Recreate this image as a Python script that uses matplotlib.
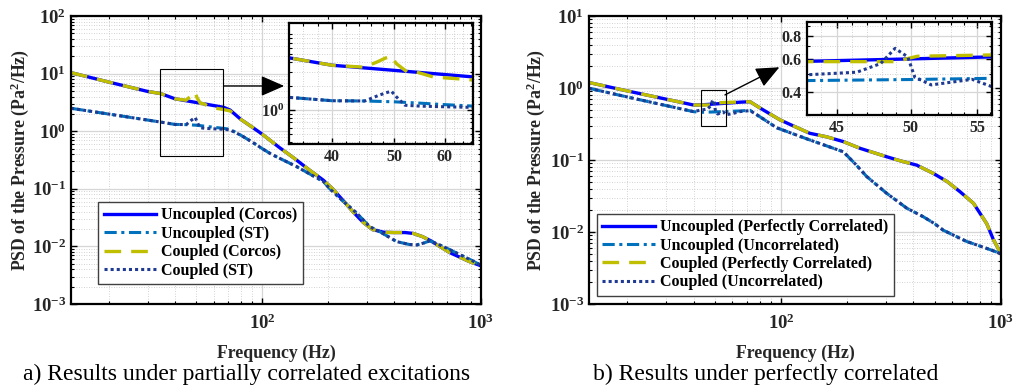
import numpy as np
import matplotlib
matplotlib.use('Agg')
import matplotlib.pyplot as plt
from matplotlib.patches import Rectangle
from matplotlib.ticker import FixedLocator, NullFormatter, FixedFormatter

plt.rcParams['font.family'] = ['Liberation Serif', 'DejaVu Serif']
plt.rcParams['font.weight'] = 'bold'
plt.rcParams['axes.labelweight'] = 'bold'
plt.rcParams['mathtext.fontset'] = 'custom'
plt.rcParams['mathtext.rm'] = 'Liberation Serif:bold'
plt.rcParams['mathtext.it'] = 'Liberation Serif:bold'
plt.rcParams['mathtext.bf'] = 'Liberation Serif:bold'

# ---- panel a) partially correlated ----
fa_unc_corcos = [13.4, 20, 30, 34.4, 40, 50, 60, 66.7, 71.4, 80, 90, 100, 120, 140, 165, 190,
                 210, 235, 260, 290, 320, 360, 400, 450, 490, 540, 590, 650, 720, 800, 880, 1000]
pa_unc_corcos = [10.4, 7.1, 4.9, 4.5, 3.65, 3.15, 2.79, 2.6, 2.33, 1.6, 1.18, 0.89, 0.52, 0.34, 0.21, 0.142,
                 0.10, 0.062, 0.040, 0.026, 0.0195, 0.0176, 0.0174, 0.0174, 0.0168, 0.0148, 0.0125, 0.0099,
                 0.0078, 0.0065, 0.0055, 0.0046]

fa_unc_st = [13.4, 20, 30, 34.4, 40, 45, 50, 55, 60, 66.7, 71.4, 80, 90, 100, 110, 144, 170, 190, 204,
             230, 271, 310, 345, 412, 470, 509, 550, 584, 650, 698, 800, 900, 1000]
pa_unc_st = [2.5, 1.98, 1.56, 1.44, 1.31, 1.30, 1.27, 1.22, 1.17, 1.12, 1.08, 0.85, 0.65, 0.50, 0.40, 0.242,
             0.17, 0.135, 0.10, 0.065, 0.0376, 0.022, 0.018, 0.0121, 0.0108, 0.0106, 0.0115, 0.0125,
             0.0105, 0.0093, 0.0072, 0.0058, 0.0047]

fa_cpl_corcos = [13.4, 20, 30, 34.4, 40, 44.9, 47, 48.5, 49.5, 50.4, 52.4, 54.2, 57.6, 65, 71.4, 80, 90,
                 100, 120, 140, 165, 190, 210, 235, 260, 290, 320, 360, 400, 450, 490, 540, 590, 650,
                 720, 800, 880, 1000]
pa_cpl_corcos = [10.4, 7.1, 4.9, 4.5, 3.65, 3.45, 4.0, 4.5, 4.73, 3.83, 3.01, 3.0, 2.6, 2.42, 2.25, 1.6,
                 1.18, 0.89, 0.52, 0.34, 0.21, 0.142, 0.10, 0.062, 0.040, 0.026, 0.0195, 0.0176, 0.0174,
                 0.0174, 0.0168, 0.0148, 0.0125, 0.0099, 0.0078, 0.0065, 0.0055, 0.0046]

fa_cpl_st = [13.4, 20, 30, 34.4, 40, 45, 47.4, 49.5, 50.4, 52, 55, 60, 66.7, 71.4, 80, 90, 100, 110, 144,
             170, 190, 204, 230, 271, 310, 345, 412, 470, 509, 550, 584, 650, 698, 800, 900, 1000]
pa_cpl_st = [2.5, 1.98, 1.56, 1.44, 1.31, 1.30, 1.54, 1.73, 1.47, 1.15, 1.12, 1.10, 1.08, 1.05, 0.85,
             0.65, 0.50, 0.40, 0.242, 0.17, 0.135, 0.10, 0.065, 0.0376, 0.022, 0.018, 0.0121, 0.0108,
             0.0106, 0.0115, 0.0125, 0.0105, 0.0093, 0.0072, 0.0058, 0.0047]

# ---- panel b) perfectly correlated ----
fb_unc_pc = [13.4, 20, 30, 40, 43.1, 50, 56.2, 65, 72.3, 80, 99, 135, 161, 192, 229, 302, 350, 413, 493,
             570, 653, 750, 862, 924, 1000]
pb_unc_pc = [1.19, 0.91, 0.70, 0.58, 0.582, 0.60, 0.615, 0.635, 0.645, 0.53, 0.36, 0.235, 0.21, 0.18,
             0.145, 0.111, 0.097, 0.085, 0.065, 0.05, 0.036, 0.025, 0.013, 0.0078, 0.005]

fb_unc_uc = [13.4, 20, 30, 40, 43.1, 50, 56.2, 65, 72.3, 80, 95.6, 135, 192, 220, 245, 302, 373, 443,
             500, 546, 697, 850, 1000]
pb_unc_uc = [0.99, 0.75, 0.57, 0.469, 0.459, 0.465, 0.472, 0.48, 0.49, 0.40, 0.28, 0.19, 0.13, 0.085,
             0.059, 0.0345, 0.0214, 0.0163, 0.013, 0.0106, 0.0074, 0.006, 0.005]

fb_cpl_pc = [13.4, 20, 30, 40, 43.1, 48.9, 50.5, 56.2, 65, 72.3, 80, 99, 135, 161, 192, 229, 302, 350,
             413, 493, 570, 653, 750, 862, 924, 1000]
pb_cpl_pc = [1.19, 0.91, 0.70, 0.58, 0.58, 0.58, 0.62, 0.63, 0.64, 0.645, 0.53, 0.36, 0.235, 0.21, 0.18,
             0.145, 0.111, 0.097, 0.085, 0.065, 0.05, 0.036, 0.025, 0.013, 0.0078, 0.005]

fb_cpl_uc = [13.4, 20, 30, 40, 43.1, 46.3, 47.9, 48.9, 49.8, 50.3, 51.5, 53, 54.6, 56.2, 60, 65, 72.3,
             80, 95.6, 135, 192, 220, 245, 302, 373, 443, 500, 546, 697, 850, 1000]
pb_cpl_uc = [0.99, 0.75, 0.57, 0.47, 0.493, 0.509, 0.566, 0.683, 0.615, 0.479, 0.435, 0.45, 0.466, 0.425,
             0.44, 0.47, 0.485, 0.40, 0.28, 0.19, 0.13, 0.085, 0.059, 0.0345, 0.0214, 0.0163, 0.013,
             0.0106, 0.0074, 0.006, 0.005]

labels_a = ['Uncoupled (Corcos)', 'Uncoupled (ST)', 'Coupled (Corcos)', 'Coupled (ST)']
labels_b = ['Uncoupled (Perfectly Correlated)', 'Uncoupled (Uncorrelated)',
            'Coupled (Perfectly Correlated)', 'Coupled (Uncorrelated)']

styles = [dict(color='#0000FF', ls='-', lw=2.4),
          dict(color='#0072BD', ls=(0, (4, 1.5, 1, 1.5)), lw=2.2),
          dict(color='#BFBF00', ls=(0, (5, 3)), lw=2.4),
          dict(color='#1F3A93', ls=(0, (1, 1)), lw=2.2)]

TXT = '#262626'


def style_axes(ax, fs=13.5):
    ax.set_xscale('log')
    ax.set_yscale('log')
    ax.tick_params(which='both', direction='in', top=True, right=True, colors='k',
                   labelcolor=TXT, labelsize=fs)
    ax.tick_params(which='major', length=4, width=1)
    ax.tick_params(which='minor', length=2.5, width=0.8)
    for s in ax.spines.values():
        s.set_linewidth(1.6)
    ax.grid(True, which='major', color='#d6d6d6', lw=0.9, ls='-')
    ax.grid(True, which='minor', color='#c4c4c4', lw=0.6, ls=(0, (1, 2)))
    ax.set_axisbelow(True)


def draw(ax, data):
    lines = []
    for (f, p), st, in zip(data, styles):
        lines += ax.plot(f, p, **st)
    return lines


fig = plt.figure(figsize=(10.23, 3.88), dpi=100)

data_a = [(fa_unc_corcos, pa_unc_corcos), (fa_unc_st, pa_unc_st),
          (fa_cpl_corcos, pa_cpl_corcos), (fa_cpl_st, pa_cpl_st)]
data_b = [(fb_unc_pc, pb_unc_pc), (fb_unc_uc, pb_unc_uc),
          (fb_cpl_pc, pb_cpl_pc), (fb_cpl_uc, pb_cpl_uc)]

panels = [
    dict(rect=[0.0694, 0.2165, 0.4008, 0.7423], data=data_a, labels=labels_a, ylim=(1e-3, 1e2),
         inset=[0.2828, 0.6276, 0.1799, 0.3119], ixlim=(34.3, 66.5), iylim=(0.37, 12.2),
         ixticks=[40, 50, 60], ixminor=np.arange(34, 67, 2), iyticks=[1], iylabels=['$\\mathdefault{10^{0}}$'],
         leg=(0.066, 0.069), arrow=((0.373, 0.757), (0.52, 0.757)),
         caption='a) Results under partially correlated excitations', cap_x=0.2414, ylab_x=-0.098),
    dict(rect=[0.5758, 0.2165, 0.4027, 0.7423], data=data_b, labels=labels_b, ylim=(1e-3, 1e1),
         inset=[0.7886, 0.7036, 0.1814, 0.2405], ixlim=(43.1, 56.2), iylim=(0.30, 0.95),
         ixticks=[45, 50, 55], ixminor=np.arange(44, 57, 1), iyticks=[0.4, 0.6, 0.8],
         iylabels=['0.4', '0.6', '0.8'],
         leg=(0.019, 0.028), arrow=((0.330, 0.726), (0.462, 0.822)),
         caption='b) Results under perfectly correlated', cap_x=0.748, ylab_x=-0.102),
]

for pnl in panels:
    ax = fig.add_axes(pnl['rect'])
    style_axes(ax)
    ax.tick_params(axis='x', which='major', pad=7)
    lines = draw(ax, pnl['data'])
    ax.set_xlim(13.4, 1000)
    ax.set_ylim(*pnl['ylim'])
    ax.set_xlabel('Frequency (Hz)', fontsize=12.8, color=TXT)
    ax.set_ylabel('PSD of the Pressure (Pa$^{2}$/Hz)', fontsize=12.8, color=TXT)
    ax.xaxis.set_label_coords(0.5, -0.142)
    ax.yaxis.set_label_coords(pnl['ylab_x'], 0.5)
    leg = ax.legend(lines, pnl['labels'], loc='lower left', bbox_to_anchor=pnl['leg'], borderaxespad=0,
                    fontsize=11.5, handlelength=3.3, handletextpad=0.3, labelspacing=0.15,
                    fancybox=False, framealpha=1, edgecolor='#404040', borderpad=0.35)
    leg.get_frame().set_linewidth(1.0)

    x0, x1 = pnl['ixlim']
    y0, y1 = pnl['iylim']
    ax.add_patch(Rectangle((x0, y0), x1 - x0, y1 - y0, fill=False, ec='k', lw=0.8, zorder=5))
    ax.annotate('', xy=pnl['arrow'][1], xytext=pnl['arrow'][0], xycoords='axes fraction',
                arrowprops=dict(arrowstyle='-|>,head_length=0.8,head_width=0.35', color='k', lw=1,
                                mutation_scale=18, shrinkA=0, shrinkB=0))

    ins = fig.add_axes(pnl['inset'])
    style_axes(ins, fs=11.5)
    draw(ins, pnl['data'])
    ins.set_xlim(x0, x1)
    ins.set_ylim(y0, y1)
    ins.xaxis.set_major_locator(FixedLocator(pnl['ixticks']))
    ins.xaxis.set_major_formatter(FixedFormatter([str(t) for t in pnl['ixticks']]))
    ins.xaxis.set_minor_locator(FixedLocator(pnl['ixminor']))
    ins.xaxis.set_minor_formatter(NullFormatter())
    ins.yaxis.set_major_locator(FixedLocator(pnl['iyticks']))
    ins.yaxis.set_major_formatter(FixedFormatter(pnl['iylabels']))
    ins.yaxis.set_minor_formatter(NullFormatter())

    fig.text(pnl['cap_x'], 0.034, pnl['caption'], ha='center', va='center', fontsize=17,
             fontweight='normal', color='k')

fig.savefig('out.png', dpi=100)
